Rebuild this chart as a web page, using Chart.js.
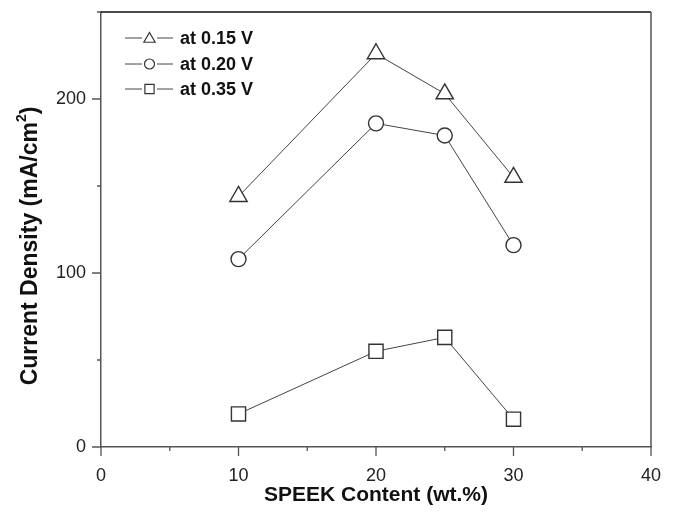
<!DOCTYPE html>
<html>
<head>
<meta charset="utf-8">
<script src="https://cdn.jsdelivr.net/npm/chart.js@4/dist/chart.umd.min.js"></script>
<style>
  html, body { margin: 0; padding: 0; background: #fff; }
  #wrap { width: 673px; height: 514px; position: relative; }
</style>
</head>
<body>
<div id="wrap"><canvas id="chart"></canvas></div>
<script>
// datos
const speekContent = [10, 20, 25, 30];
const at015 = [144, 226, 203, 155];
const at020 = [108, 186, 179, 116];
const at035 = [19, 55, 63, 16];
const xTickLabels = [0, 10, 20, 30, 40];
const yTickLabels = [0, 100, 200];
const seriesNames = ['at 0.15 V', 'at 0.20 V', 'at 0.35 V'];

const FONT = '"Liberation Sans", Arial, sans-serif';

function toPoints(ys) {
    return speekContent.map((x, i) => ({ x: x, y: ys[i] }));
}

function serie(label, ys, style, radius) {
    return {
        label: label,
        data: toPoints(ys),
        borderColor: '#444',
        borderWidth: 1,
        pointStyle: style,
        pointRadius: radius,
        pointBackgroundColor: '#fff',
        pointBorderColor: '#333',
        pointBorderWidth: 1.4,
        tension: 0
    };
}

// marco, marcas de eje, titulo Y y leyenda dibujados a mano
const framePlugin = {
    id: 'frame',
    afterDraw(chart) {
        const ctx = chart.ctx;
        const a = chart.chartArea;
        const xs = chart.scales.x;
        const ysc = chart.scales.y;
        ctx.save();
        ctx.strokeStyle = '#111';
        ctx.lineWidth = 1.5;
        ctx.beginPath();
        ctx.moveTo(a.left, a.top);
        ctx.lineTo(a.right, a.top);
        ctx.stroke();
        ctx.strokeStyle = '#555';
        ctx.beginPath();
        ctx.moveTo(a.right, a.top);
        ctx.lineTo(a.right, a.bottom);
        ctx.stroke();

        // marcas mayores y menores
        ctx.strokeStyle = '#555';
        ctx.lineWidth = 1.3;
        ctx.beginPath();
        xs.ticks.forEach(t => {
            const px = xs.getPixelForValue(t.value);
            const len = xTickLabels.includes(t.value) ? 9 : 4;
            ctx.moveTo(px, a.bottom);
            ctx.lineTo(px, a.bottom + len);
        });
        ysc.ticks.forEach(t => {
            const py = ysc.getPixelForValue(t.value);
            const len = yTickLabels.includes(t.value) ? 9 : 4;
            ctx.moveTo(a.left, py);
            ctx.lineTo(a.left - len, py);
        });
        ctx.stroke();

        // titulo del eje Y con superindice
        const main = 'Current Density (mA/cm';
        ctx.font = 'bold 23px ' + FONT;
        const w1 = ctx.measureText(main).width;
        const w3 = ctx.measureText(')').width;
        ctx.font = 'bold 14px ' + FONT;
        const w2 = ctx.measureText('2').width;
        const total = w1 + w2 + w3;
        ctx.save();
        ctx.translate(31, 246);
        ctx.rotate(-Math.PI / 2);
        ctx.fillStyle = '#111';
        ctx.textBaseline = 'middle';
        ctx.textAlign = 'left';
        let x0 = -total / 2;
        ctx.font = 'bold 23px ' + FONT;
        ctx.fillText(main, x0, 0);
        ctx.font = 'bold 14px ' + FONT;
        ctx.fillText('2', x0 + w1, -9);
        ctx.font = 'bold 23px ' + FONT;
        ctx.fillText(')', x0 + w1 + w2, 0);
        ctx.restore();

        // leyenda
        const styles = ['triangle', 'circle', 'rect'];
        const radii = [6.5, 5, 6.5];
        const ly = [38, 64, 89];
        ctx.font = 'bold 18px ' + FONT;
        ctx.textBaseline = 'middle';
        seriesNames.forEach((name, i) => {
            const y = ly[i];
            ctx.strokeStyle = '#444';
            ctx.lineWidth = 1;
            ctx.beginPath();
            ctx.moveTo(125, y); ctx.lineTo(142, y);
            ctx.moveTo(157, y); ctx.lineTo(173, y);
            ctx.stroke();
            ctx.fillStyle = '#fff';
            ctx.strokeStyle = '#333';
            ctx.lineWidth = 1.2;
            Chart.helpers.drawPoint(ctx, { pointStyle: styles[i], radius: radii[i], rotation: 0, borderWidth: 1.2 }, 149.5, y + (i === 0 ? 1 : 0));
            ctx.fillStyle = '#111';
            ctx.fillText(name, 180, y + 1);
        });
        ctx.restore();
    }
};

new Chart(document.getElementById('chart'), {
    type: 'line',
    data: {
        datasets: [
            serie(seriesNames[0], at015, 'triangle', 10),
            serie(seriesNames[1], at020, 'circle', 7.5),
            serie(seriesNames[2], at035, 'rect', 10)
        ]
    },
    options: {
        responsive: true,
        maintainAspectRatio: false,
        animation: false,
        layout: { padding: { top: 12, right: 22, left: 0, bottom: 0 } },
        plugins: {
            legend: { display: false },
            tooltip: { enabled: false }
        },
        scales: {
            x: {
                type: 'linear',
                min: 0,
                max: 40,
                afterFit(scale) { scale.height = 67; scale.paddingLeft = 0; scale.paddingRight = 0; },
                border: { display: true, color: '#555', width: 1.5 },
                grid: { drawOnChartArea: false, tickLength: 9, tickColor: 'rgba(0,0,0,0)' },
                ticks: {
                    stepSize: 5,
                    padding: 9,
                    autoSkip: false,
                    maxRotation: 0,
                    color: '#222',
                    font: { family: FONT, size: 18 },
                    callback: v => xTickLabels.includes(v) ? v : ''
                },
                title: {
                    display: true,
                    text: 'SPEEK Content (wt.%)',
                    color: '#111',
                    font: { family: FONT, size: 21, weight: 'bold' },
                    padding: { top: 0, bottom: 6 }
                }
            },
            y: {
                type: 'linear',
                min: 0,
                max: 250,
                afterFit(scale) { scale.width = 101; scale.paddingTop = 0; scale.paddingBottom = 0; },
                border: { display: true, color: '#555', width: 1.5 },
                grid: { drawOnChartArea: false, tickLength: 9, tickColor: 'rgba(0,0,0,0)' },
                ticks: {
                    stepSize: 50,
                    padding: 6,
                    autoSkip: false,
                    color: '#222',
                    font: { family: FONT, size: 18 },
                    callback: v => yTickLabels.includes(v) ? v : ''
                },
                title: { display: false }
            }
        }
    },
    plugins: [framePlugin]
});
</script>
</body>
</html>
